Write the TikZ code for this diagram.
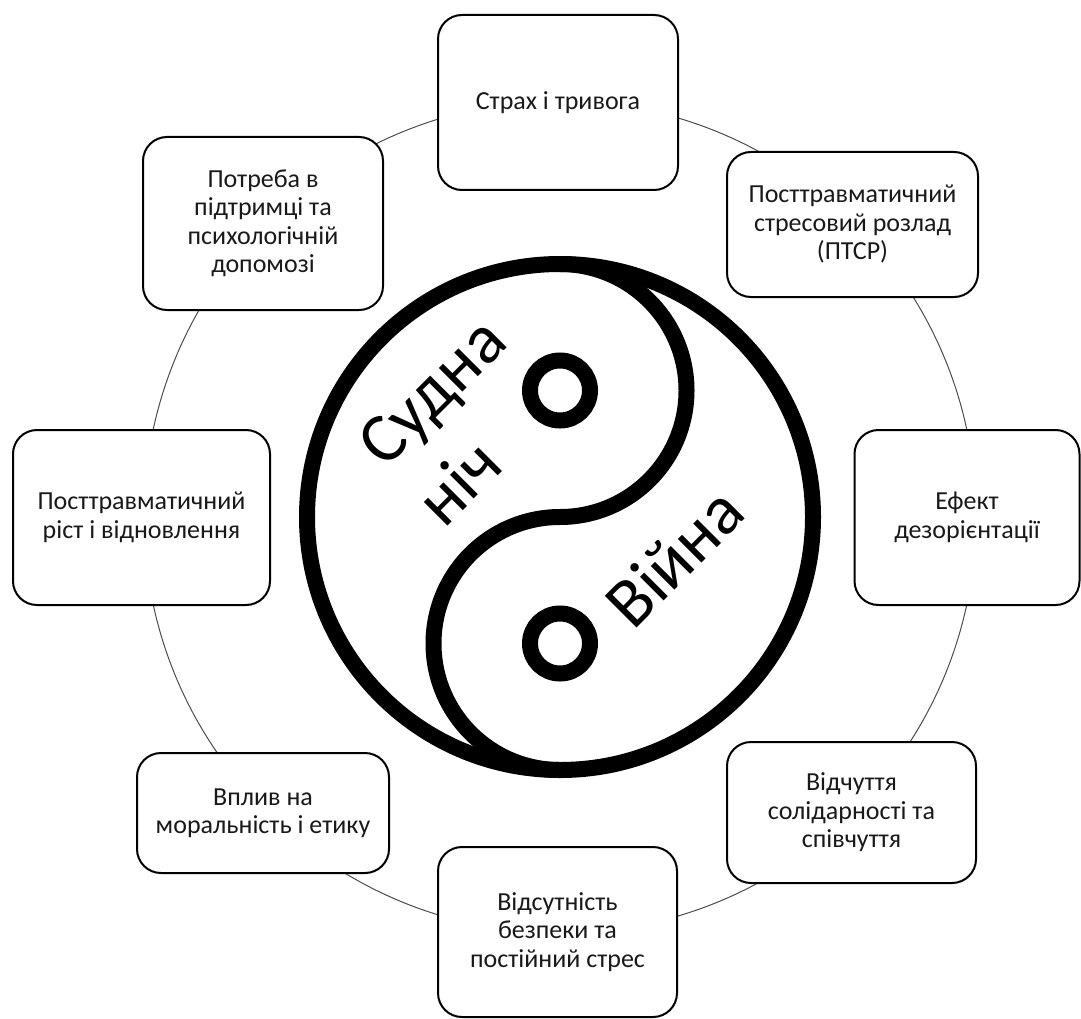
\documentclass[tikz,border=0pt]{standalone}
\usepackage{fontspec}
\setmainfont{Carlito}
\begin{document}
\begin{tikzpicture}[x=1pt,y=1pt,
  box/.style={draw=black, line width=2pt, rounded corners=24pt, fill=white, align=center,
    text=black!90, font=\fontsize{26}{28.5}\selectfont, inner sep=0pt},
  thinring/.style={draw=black!70, line width=1pt},
  yy/.style={draw=black, line width=16pt},
  bigtxt/.style={font=\fontsize{70}{84}\selectfont, rotate=45, inner sep=0pt, text=black}]
\useasboundingbox (0,0) rectangle (1081,-1019);
\coordinate (O) at (560,-517);
% thin ring through the boxes
\draw[thinring] (O) circle[radius=416];
% boxes
\node[box, minimum width=240pt, minimum height=175pt] (b1) at (558,-102.5) {Страх і тривога};
\node[box, minimum width=251pt, minimum height=145pt] (b2) at (852.5,-224.5) {Посттравматичний\\стресовий розлад\\(ПТСР)};
\node[box, minimum width=225pt, minimum height=175pt] (b3) at (967,-517.5) {Ефект\\дезорієнтації};
\node[box, minimum width=249pt, minimum height=141pt] (b4) at (851.5,-812.5) {Відчуття\\солідарності та\\співчуття};
\node[box, minimum width=239pt, minimum height=170pt] (b5) at (557.5,-932) {Відсутність\\безпеки та\\постійний стрес};
\node[box, minimum width=252pt, minimum height=120pt] (b6) at (263,-813) {Вплив на\\моральність і етику};
\node[box, minimum width=257pt, minimum height=175pt] (b7) at (141.5,-517.5) {Посттравматичний\\ріст і відновлення};
\node[box, minimum width=240pt, minimum height=173pt] (b8) at (263,-223.5) {Потреба в\\підтримці та\\психологічній\\допомозі};
% yin-yang
\coordinate (T) at (560,-264);
\coordinate (D1) at (560,-390.5);
\coordinate (D2) at (560,-643.5);
\draw[yy] (O) circle[radius=253];
\draw[yy] (T) arc[start angle=90, end angle=-90, radius=126.5]
              arc[start angle=90, end angle=270, radius=126.5];
\draw[yy] (D1) circle[radius=30];
\draw[yy] (D2) circle[radius=30];
% texts
\node[bigtxt, align=left] (t1) at (461,-421) {Судна\\ніч};
\node[bigtxt] (t3) at (674,-557) {Війна};
\end{tikzpicture}
\end{document}
